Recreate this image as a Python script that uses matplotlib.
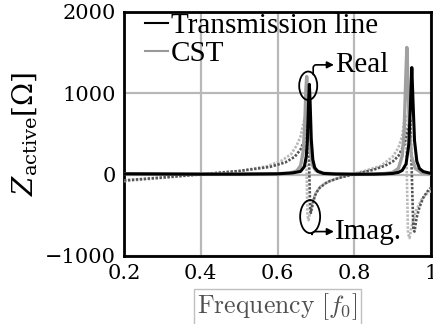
import matplotlib
matplotlib.use("Agg")
import matplotlib.pyplot as plt
from matplotlib.lines import Line2D
from matplotlib.patches import Ellipse

# transmission line model (black)
f_tl_re = [0.2, 0.3, 0.4, 0.5, 0.6, 0.64, 0.66, 0.67, 0.675, 0.678, 0.681, 0.683, 0.685, 0.688, 0.692,
           0.697, 0.705, 0.72, 0.75, 0.8, 0.85, 0.88, 0.9, 0.915, 0.925, 0.935, 0.942, 0.946, 0.95, 0.953,
           0.957, 0.963, 0.97, 0.98, 1.0]
tl_re = [10, 8, 6, 6, 10, 22, 40, 100, 225, 435, 890, 1110, 890, 435, 185,
         85, 40, 15, 8, 5, 6, 10, 15, 28, 52, 132, 370, 800, 1317, 915,
         420, 165, 75, 38, 15]
f_tl_im = [0.2, 0.3, 0.4, 0.5, 0.58, 0.62, 0.645, 0.66, 0.67, 0.676, 0.679, 0.681, 0.683, 0.685, 0.687,
           0.69, 0.695, 0.70, 0.71, 0.73, 0.76, 0.8, 0.85, 0.88, 0.9, 0.915, 0.93, 0.94, 0.946, 0.95,
           0.954, 0.957, 0.962, 0.97, 0.98, 0.99, 1.0]
tl_im = [-70, -35, 5, 45, 95, 150, 220, 310, 420, 560, 650, 500, 0, -420, -470,
         -400, -300, -230, -160, -90, -40, 5, 60, 110, 160, 230, 370, 560, 680, 0,
         -680, -700, -540, -400, -280, -210, -160]

# CST simulation (grey)
f_cst_re = [0.2, 0.3, 0.4, 0.5, 0.6, 0.63, 0.65, 0.66, 0.667, 0.671, 0.674, 0.676, 0.678, 0.681, 0.685,
            0.692, 0.70, 0.72, 0.75, 0.8, 0.85, 0.88, 0.9, 0.915, 0.925, 0.93, 0.934, 0.937, 0.94, 0.944,
            0.949, 0.959, 0.974, 0.99, 1.0]
cst_re = [12, 10, 8, 8, 12, 18, 45, 108, 285, 605, 1040, 1206, 1040, 605, 285,
          108, 50, 18, 10, 6, 8, 14, 28, 77, 230, 530, 1150, 1564, 1150, 530,
          230, 77, 28, 14, 10]
f_cst_im = [0.2, 0.3, 0.4, 0.5, 0.57, 0.61, 0.635, 0.65, 0.66, 0.667, 0.671, 0.674, 0.676, 0.678, 0.681,
            0.685, 0.69, 0.70, 0.715, 0.74, 0.78, 0.83, 0.87, 0.9, 0.915, 0.925, 0.93, 0.934, 0.937, 0.94,
            0.944, 0.949, 0.96, 0.975, 0.99, 1.0]
cst_im = [-80, -40, 0, 45, 100, 170, 250, 360, 470, 620, 700, 500, 0, -500, -560,
          -470, -350, -220, -130, -70, -10, 50, 110, 220, 330, 480, 650, 720, 0, -720,
          -780, -650, -450, -310, -230, -200]

xticks = [0.2, 0.4, 0.6, 0.8, 1.0]
xticklabels = ['0.2', '0.4', '0.6', '0.8', '1']
yticks = [-1000, 0, 1000, 2000]

fig = plt.figure(figsize=(4.33, 3.24), dpi=100)
ax = fig.add_axes([0.2864, 0.2099, 0.709, 0.7531])

dots = (0, (0.9, 0.6))
ax.plot(f_cst_im, cst_im, color='#b8b8b8', lw=1.9, linestyle=dots, zorder=3)
ax.plot(f_tl_im, tl_im, color='#555555', lw=1.9, linestyle=dots, zorder=3)
ax.plot(f_cst_re, cst_re, color='#a0a0a0', lw=2.4, zorder=4)
ax.plot(f_tl_re, tl_re, color='black', lw=2.2, zorder=5)

ax.set_xlim(0.2, 1.0)
ax.set_ylim(-1000, 2000)
ax.set_xticks(xticks)
ax.set_xticklabels(xticklabels)
ax.set_yticks(yticks)
ax.grid(True, color='#b8b8b8', lw=1.6)
ax.set_axisbelow(True)
ax.tick_params(length=0, pad=6, labelsize=15)
for lab in ax.get_xticklabels() + ax.get_yticklabels():
    lab.set_family('DejaVu Serif')
for s in ax.spines.values():
    s.set_linewidth(2)

ax.set_ylabel(r'$Z_{\mathrm{active}}[\Omega]$', fontsize=20, math_fontfamily='dejavuserif', labelpad=4)
ax.set_xlabel(r'$\mathrm{Frequency}\ [f_0]$', fontsize=18.5, math_fontfamily='cm', color='#505050',
              labelpad=6, bbox=dict(facecolor='none', edgecolor='#c0c0c0', pad=2, lw=1))

handles = [Line2D([], [], color='black', lw=1.5), Line2D([], [], color='#999999', lw=1.5)]
ax.legend(handles, ['Transmission line', 'CST'], loc='upper left', frameon=False,
          prop={'family': 'Liberation Serif', 'size': 21}, handlelength=0.8, handletextpad=0.1,
          labelspacing=0.05, borderaxespad=0.0, bbox_to_anchor=(0.03, 1.045))

# markers for the resonance annotations
ax.add_patch(Ellipse((0.680, 1093), 0.047, 350, fill=False, color='black', lw=1.3, zorder=6))
ax.add_patch(Ellipse((0.685, -516), 0.052, 406, fill=False, color='black', lw=1.3, zorder=6))
ax.annotate('', xy=(0.747, 1350), xytext=(0.693, 1230),
            arrowprops=dict(arrowstyle='-|>', color='black', lw=1.2, mutation_scale=10,
                            connectionstyle='angle,angleA=90,angleB=0,rad=3', shrinkA=0, shrinkB=0))
ax.annotate('', xy=(0.747, -700), xytext=(0.690, -715),
            arrowprops=dict(arrowstyle='-|>', color='black', lw=1.2, mutation_scale=10,
                            connectionstyle='angle,angleA=-90,angleB=0,rad=3', shrinkA=0, shrinkB=0))
ax.text(0.750, 1350, 'Real', fontsize=21, family='Liberation Serif', va='center', ha='left')
ax.text(0.750, -700, 'Imag.', fontsize=21, family='Liberation Serif', va='center', ha='left')

fig.savefig('out.png', dpi=100)
